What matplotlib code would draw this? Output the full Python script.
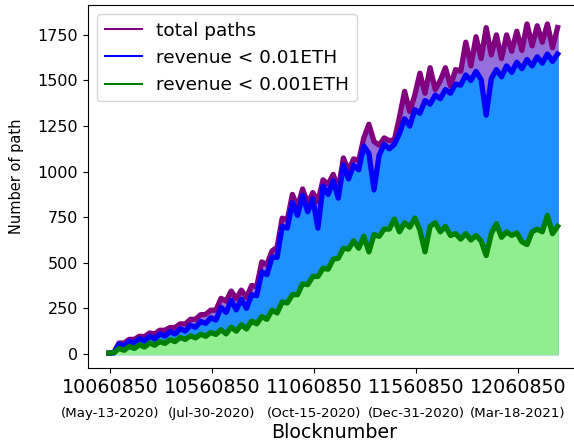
import numpy as np
import matplotlib
matplotlib.use("Agg")
import matplotlib.pyplot as plt
from matplotlib.lines import Line2D

# sampling grid of block numbers
blocks = np.arange(10055000, 12255001, 25000)

total_paths = [5, 8,
               60, 60, 80, 80, 97, 95, 115, 110, 130, 130, 145, 145, 165, 165, 190, 190, 215, 217, 240, 240,
               305, 290, 345, 303, 350, 310, 375,
               370, 505, 490, 565, 585, 745, 735,
               875, 805, 905, 825, 885, 835,
               955, 930, 985, 905, 1075, 1005, 1070,
               1060, 1185, 1260, 1165, 1145, 1185, 1170, 1175,
               1300, 1440, 1330, 1420, 1540, 1430,
               1570, 1450, 1500, 1570, 1470, 1560,
               1550, 1710, 1580, 1740, 1620, 1790, 1640, 1750,
               1620, 1750, 1660, 1770, 1665, 1810, 1690, 1800, 1710, 1810, 1680, 1790]

rev_001 = [4, 6,
           54, 42, 70, 58, 84, 70, 98, 82, 110, 98, 122, 110, 138, 126, 158, 146, 178, 168, 198, 186,
           255, 228, 295, 242, 300, 250, 325,
           320, 450, 435, 530, 530, 700, 690,
           830, 760, 870, 780, 850, 690,
           920, 875, 950, 855, 1035, 960, 1035,
           1010, 1140, 1100, 900, 1090, 1150, 1125, 1150,
           1210, 1290, 1250, 1340, 1320, 1390,
           1370, 1420, 1400, 1450, 1430, 1480,
           1475, 1530, 1500, 1550, 1505, 1310, 1510, 1560,
           1520, 1580, 1545, 1600, 1565, 1615, 1580, 1630, 1595, 1645, 1605, 1645]

rev_0001 = [5, 8,
            30, 20, 41, 30, 50, 38, 60, 48, 68, 58, 78, 68, 90, 80, 100, 88, 108, 97, 118, 107,
            133, 110, 147, 125, 160, 137, 180,
            165, 205, 190, 240, 225, 285, 280,
            325, 325, 385, 380, 425, 425,
            470, 465, 520, 525, 580, 575, 620,
            580, 645, 560, 655, 645, 685, 685, 740,
            670, 720, 695, 745, 680, 560,
            700, 720, 670, 700, 650, 660,
            630, 660, 625, 650, 620, 540, 660, 715,
            640, 670, 650, 665, 615, 600, 670, 685, 670, 760, 660, 700]

tick_blocks = [10060850, 10560850, 11060850, 11560850, 12060850]
tick_dates = ["(May-13-2020)", "(Jul-30-2020)", "(Oct-15-2020)",
              "(Dec-31-2020)", "(Mar-18-2021)"]

fig = plt.figure(figsize=(5.74, 4.44), dpi=100)
ax = fig.add_axes([88/574, 1-368/444, 492/574, 363/444])

lw = 3.8
ax.fill_between(blocks, total_paths, color="mediumpurple")
ax.plot(blocks, total_paths, color="purple", lw=lw)
ax.fill_between(blocks, rev_001, color="dodgerblue")
ax.plot(blocks, rev_001, color="blue", lw=lw)
ax.fill_between(blocks, rev_0001, color="lightgreen")
ax.plot(blocks, rev_0001, color="green", lw=lw)

ax.set_xlim(9953000, 12364800)
ax.set_ylim(-77, 1914)
ax.set_yticks([0, 250, 500, 750, 1000, 1250, 1500, 1750])
ax.tick_params(axis="y", labelsize=11.5)
ax.set_xticks(tick_blocks)
ax.set_xticklabels([str(b) for b in tick_blocks], fontsize=13.7)
for b, d in zip(tick_blocks, tick_dates):
    ax.text(b, -(413-368)/363, d, transform=ax.get_xaxis_transform(),
            ha="center", va="center", fontsize=9.6)

ax.set_xlabel("Blocknumber", fontsize=13.7, va="center")
ax.xaxis.set_label_coords(0.5, -(433-368)/363)
ax.set_ylabel("Number of path", fontsize=10.5, va="center")
ax.yaxis.set_label_coords((17-88)/492, (368-176)/363)

handles = [Line2D([], [], color="purple", lw=1.5),
           Line2D([], [], color="blue", lw=1.5),
           Line2D([], [], color="green", lw=1.5)]
ax.legend(handles, ["total paths", "revenue < 0.01ETH", "revenue < 0.001ETH"],
          loc="upper left", fontsize=13.3)

fig.savefig("out.png", dpi=100)
